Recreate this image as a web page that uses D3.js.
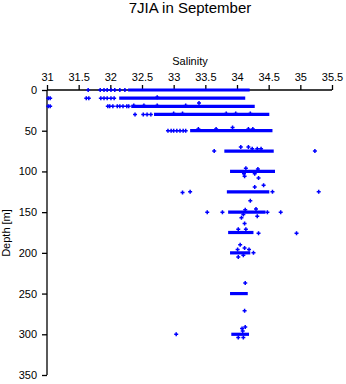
<!DOCTYPE html>
<html><head><meta charset="utf-8">
<script src="https://cdn.jsdelivr.net/npm/d3@7"></script>
<style>
body{margin:0;background:#fff;}
text{font-family:"Liberation Sans",Arial,sans-serif;fill:#000;}
</style></head>
<body><svg id="c" width="346" height="384"></svg>
<script>
// Dense rows of observations at standard depths: [depth, min salinity, max salinity]
const rowDepths = [0, 10, 20, 30, 50, 75, 100, 125, 150, 175, 200, 250, 300];
const rowMin    = [32.28, 32.14, 32.33, 32.69, 33.26, 33.80, 33.89, 33.84, 33.86, 33.86, 33.89, 33.89, 33.91];
const rowMax    = [34.20, 34.13, 34.28, 34.51, 34.56, 34.58, 34.60, 34.51, 34.45, 34.26, 34.21, 34.17, 34.19];

// Individual observations: depth and salinity
const pointDepth = [
  0,0,0,0,0,0,0,0,
  10,10,10,10,10,10,10,10,10,9,
  20,20,20,20,20,20,20,20,20,20,16,19,19,19,19,
  30,30,30,30,29,29,29,29,29,
  50,50,50,50,50,50,50,48,48,46,48,48,
  75,75,70,70,72,72,72,
  96,103,106,97,103,108,119,117,
  126,125,125,125,136,
  150,150,150,150,147,146,153,157,155,164,
  176,176,171,171,
  200,190,196,194,196,205,203,
  237,271,
  300,291,293,296,304,304
];
const pointSal = [
  31.65,31.84,31.90,31.95,32.01,32.07,32.15,32.23,
  31.02,31.05,31.62,31.66,31.85,31.90,31.95,32.01,32.06,32.74,
  31.02,31.05,31.96,31.99,32.04,32.11,32.15,32.20,32.26,32.29,33.40,32.37,32.53,32.74,33.19,
  32.39,32.52,32.58,32.64,33.00,33.14,33.83,33.98,34.21,
  32.91,32.96,33.00,33.05,33.10,33.15,33.19,33.39,33.67,33.93,34.18,34.25,
  33.64,35.23,34.06,34.18,34.24,34.32,34.38,
  34.14,34.11,34.12,34.33,34.28,34.34,34.28,34.42,
  33.14,33.26,34.56,35.29,34.21,
  33.53,33.77,34.48,34.69,34.13,34.30,34.10,34.07,34.32,34.12,
  34.34,34.94,34.02,34.14,
  34.26,34.05,34.01,34.12,34.19,34.02,34.10,
  34.13,34.12,
  33.04,34.13,34.08,34.09,34.02,34.10
];

const xTicks = [31, 31.5, 32, 32.5, 33, 33.5, 34, 34.5, 35, 35.5];
const yTicks = [0, 50, 100, 150, 200, 250, 300, 350];

const svg = d3.select("#c");
const x = d3.scaleLinear().domain([31, 35.5]).range([47, 332]);
const y = d3.scaleLinear().domain([0, 350]).range([90, 375]);
const blue = "#0000ff";

// title
svg.append("text").attr("x", 190).attr("y", 13).attr("text-anchor", "middle")
  .style("font-size", "15px").text("7JIA in September");
svg.append("text").attr("x", 190).attr("y", 65).attr("text-anchor", "middle")
  .style("font-size", "11px").text("Salinity");
svg.append("text").attr("transform", "translate(10,233) rotate(-90)").attr("text-anchor", "middle")
  .style("font-size", "11px").text("Depth [m]");

// axes
const xa = svg.append("g").attr("transform", "translate(0,90)")
  .call(d3.axisTop(x).tickValues(xTicks).tickSize(5).tickPadding(4).tickFormat(d => d3.format("")(d)));
const ya = svg.append("g").attr("transform", "translate(47,0)")
  .call(d3.axisLeft(y).tickValues(yTicks).tickSize(5).tickPadding(5));
[xa, ya].forEach(a => {
  a.select(".domain").attr("stroke", "#000").attr("stroke-width", 1.3);
  a.selectAll(".tick line").attr("stroke", "#000").attr("stroke-width", 1.3);
  a.selectAll("text").style("font-size", "11px").style("font-family", "'Liberation Sans',Arial,sans-serif");
});
// domain path without outer ticks
xa.select(".domain").attr("d", `M${x(31)},0H${x(35.5)}`);
ya.select(".domain").attr("d", `M0,${y(0)}V${y(350)}`);

// dense rows
svg.append("g").selectAll("line").data(rowDepths).join("line")
  .attr("x1", (d, i) => x(rowMin[i])).attr("x2", (d, i) => x(rowMax[i]))
  .attr("y1", d => y(d)).attr("y2", d => y(d))
  .attr("stroke", blue).attr("stroke-width", 3.2);

// individual points as small plus marks
svg.append("g").selectAll("path").data(pointDepth).join("path")
  .attr("d", (d, i) => {
    const cx = x(pointSal[i]), cy = y(d), r = 2;
    return `M${cx - r},${cy}H${cx + r}M${cx},${cy - r}V${cy + r}`;
  })
  .attr("stroke", blue).attr("stroke-width", 1.5).attr("fill", "none");
</script></body></html>
